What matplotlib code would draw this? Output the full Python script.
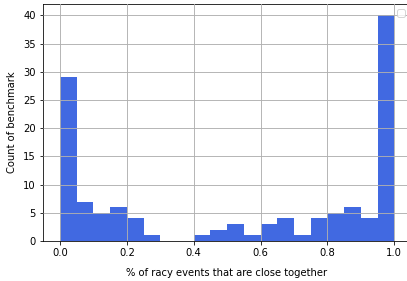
## histogram of how close together racy events are, per benchmark
import matplotlib
matplotlib.use('Agg')
import matplotlib.pyplot as plt
import numpy as np

# bin edges (20 bins of width 0.05) and benchmark counts per bin
bin_edges = np.linspace(0.0, 1.0, 21)
counts = [29, 7, 5, 6, 4, 1, 0, 0, 1, 2, 3, 1, 3, 4, 1, 4, 5, 6, 4, 40]
xticks = [0.0, 0.2, 0.4, 0.6, 0.8, 1.0]
yticks = [0, 5, 10, 15, 20, 25, 30, 35, 40]

plt.rcParams['font.size'] = 10

fig = plt.figure(figsize=(407/72, 281/72), dpi=72)
# axes run a little past the right edge of the picture (the original was cropped)
ax = fig.add_axes([43/407, 40/281, 368/407, 237/281])

ax.hist(bin_edges[:-1], bins=bin_edges, weights=counts, color='royalblue')
ax.grid(True, color='#b0b0b0', linewidth=0.9)
ax.set_axisbelow(False)
ax.spines['right'].set_visible(False)

ax.set_xlim(-0.051, 1.05)
ax.set_ylim(0, 42)
ax.set_xticks(xticks)
ax.set_yticks(yticks)
ax.tick_params(labelsize=10)

ax.set_xlabel('% of racy events that are close together', labelpad=10)
ax.set_ylabel('Count of benchmark', labelpad=6)
ax.legend(loc='upper right', bbox_to_anchor=(410/407, 1 - 4/281),
          bbox_transform=fig.transFigure)

fig.savefig('out.png', dpi=72)
